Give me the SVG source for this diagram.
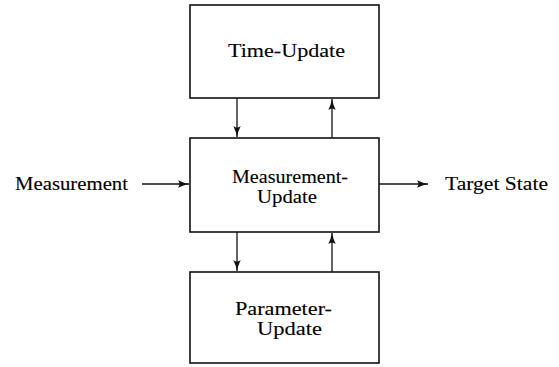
<svg xmlns="http://www.w3.org/2000/svg" width="559" height="367" viewBox="0 0 559 367">
  <style>
    .box { fill: #ffffff; stroke: #111111; stroke-width: 1.6; }
    .lbl { font-family: "Liberation Serif", "Times New Roman", "DejaVu Serif", serif; font-size: 19px; fill: #000000; stroke: #000000; stroke-width: 0.12; }
    .wire { fill: none; stroke: #111111; stroke-width: 1.3; marker-end: url(#head); }
  </style>
  <defs>
    <marker id="head" viewBox="0 0 11 8" refX="11" refY="4" markerWidth="11" markerHeight="8" markerUnits="userSpaceOnUse" orient="auto">
      <path d="M0,0.3 Q5.5,3 11,4 Q5.5,5 0,7.7 Q3,4 0,0.3 Z" fill="#111111"/>
    </marker>
  </defs>
  <rect width="559" height="367" fill="#ffffff"/>

  <g id="time-update">
    <rect class="box" x="190" y="5" width="189" height="93"/>
    <text class="lbl" x="286.5" y="57" text-anchor="middle" textLength="117" lengthAdjust="spacingAndGlyphs">Time-Update</text>
  </g>

  <g id="measurement-update">
    <rect class="box" x="190" y="138" width="189" height="94"/>
    <text class="lbl" x="290" y="183" text-anchor="middle" textLength="116" lengthAdjust="spacingAndGlyphs">Measurement-</text>
    <text class="lbl" x="287" y="203" text-anchor="middle" textLength="60" lengthAdjust="spacingAndGlyphs">Update</text>
  </g>

  <g id="parameter-update">
    <rect class="box" x="190" y="272" width="189" height="91"/>
    <text class="lbl" x="283.5" y="315" text-anchor="middle" textLength="97" lengthAdjust="spacingAndGlyphs">Parameter-</text>
    <text class="lbl" x="289.5" y="335" text-anchor="middle" textLength="65" lengthAdjust="spacingAndGlyphs">Update</text>
  </g>

  <g id="measurement-input">
    <text class="lbl" x="15" y="190" textLength="113" lengthAdjust="spacingAndGlyphs">Measurement</text>
  </g>

  <g id="target-state">
    <text class="lbl" x="445" y="190" textLength="103" lengthAdjust="spacingAndGlyphs">Target State</text>
  </g>

  <g id="connectors">
    <line class="wire" x1="237" y1="98" x2="237" y2="137"/>
    <line class="wire" x1="332" y1="138" x2="332" y2="99"/>
    <line class="wire" x1="237" y1="232" x2="237" y2="271"/>
    <line class="wire" x1="332" y1="272" x2="332" y2="233"/>
    <line class="wire" x1="142" y1="184" x2="189" y2="184"/>
    <line class="wire" x1="379" y1="184" x2="428" y2="184"/>
  </g>
</svg>
